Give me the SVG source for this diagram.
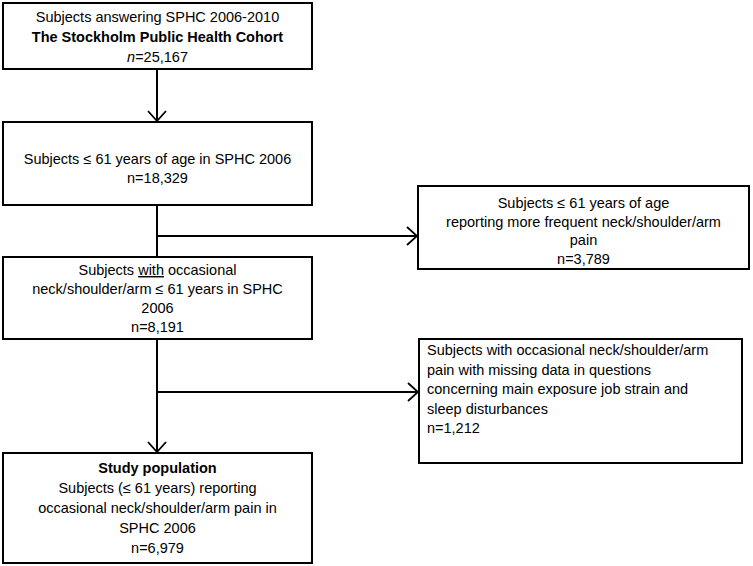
<svg xmlns="http://www.w3.org/2000/svg" width="753" height="566" viewBox="0 0 753 566">
<defs>
<marker id="arr" viewBox="0 0 12 20" refX="11" refY="10" markerWidth="12" markerHeight="20" markerUnits="userSpaceOnUse" orient="auto">
<path d="M1,1 L11,10 L1,19" fill="none" stroke="#000" stroke-width="1.8"/>
</marker>
<style>
.box{fill:#fff;stroke:#000;stroke-width:2}
.t{font-family:"Liberation Sans",Arial,sans-serif;font-size:14.5px;fill:#000}
.c{text-anchor:middle}
.b{font-weight:bold}
.ln{fill:none;stroke:#000;stroke-width:2}
</style>
</defs>
<rect width="753" height="566" fill="#fff"/>
<g id="connectors">
<line class="ln" x1="157" y1="69" x2="157" y2="121" marker-end="url(#arr)"/>
<line class="ln" x1="157" y1="205" x2="157" y2="257"/>
<line class="ln" x1="157" y1="236" x2="417" y2="236" marker-end="url(#arr)"/>
<line class="ln" x1="157" y1="339" x2="157" y2="452" marker-end="url(#arr)"/>
<line class="ln" x1="157" y1="392" x2="418" y2="392" marker-end="url(#arr)"/>
</g>
<g id="cohort">
<rect class="box" x="3" y="3" width="309" height="66"/>
<text class="t c" x="157.5" y="22">Subjects answering SPHC 2006-2010</text>
<text class="t c b" x="157.5" y="42">The Stockholm Public Health Cohort</text>
<text class="t c" x="157.5" y="62"><tspan font-style="italic">n</tspan>=25,167</text>
</g>
<g id="age61">
<rect class="box" x="3" y="122" width="309" height="83"/>
<text class="t c" x="157.5" y="164">Subjects ≤ 61 years of age in SPHC 2006</text>
<text class="t c" x="157.5" y="183">n=18,329</text>
</g>
<g id="frequent">
<rect class="box" x="418" y="186" width="331" height="83"/>
<text class="t c" x="583.5" y="208">Subjects ≤ 61 years of age</text>
<text class="t c" x="583.5" y="226.5">reporting more frequent neck/shoulder/arm</text>
<text class="t c" x="583.5" y="245">pain</text>
<text class="t c" x="583.5" y="263.5">n=3,789</text>
</g>
<g id="occasional">
<rect class="box" x="3" y="257" width="309" height="82"/>
<text class="t c" x="157.5" y="275">Subjects <tspan text-decoration="underline">with</tspan> occasional</text>
<text class="t c" x="157.5" y="294">neck/shoulder/arm ≤ 61 years in SPHC</text>
<text class="t c" x="157.5" y="313">2006</text>
<text class="t c" x="157.5" y="332">n=8,191</text>
</g>
<g id="missing">
<rect class="box" x="419" y="339" width="323" height="124"/>
<text class="t" x="427" y="355">Subjects with occasional neck/shoulder/arm</text>
<text class="t" x="427" y="374.5">pain with missing data in questions</text>
<text class="t" x="427" y="394">concerning main exposure job strain and</text>
<text class="t" x="427" y="413.5">sleep disturbances</text>
<text class="t" x="427" y="433">n=1,212</text>
</g>
<g id="study">
<rect class="box" x="3" y="453" width="309" height="110"/>
<text class="t c b" x="157.5" y="473">Study population</text>
<text class="t c" x="157.5" y="493">Subjects (≤ 61 years) reporting</text>
<text class="t c" x="157.5" y="513">occasional neck/shoulder/arm pain in</text>
<text class="t c" x="157.5" y="533">SPHC 2006</text>
<text class="t c" x="157.5" y="553">n=6,979</text>
</g>
</svg>
